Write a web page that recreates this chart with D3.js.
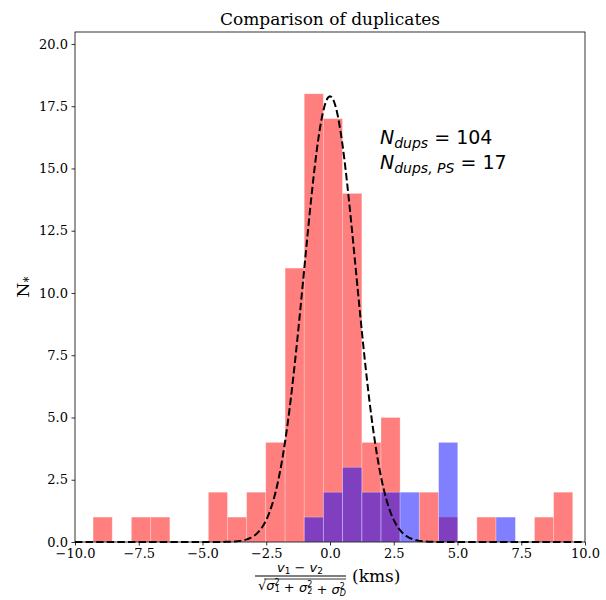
<!DOCTYPE html>
<html>
<head>
<meta charset="utf-8">
<script src="https://cdn.jsdelivr.net/npm/d3@7"></script>
<style>
  body { margin: 0; background: #fff; }
  svg { display: block; }
  .serif { font-family: "DejaVu Serif", serif; }
  .math { font-family: "DejaVu Sans", sans-serif; }
</style>
</head>
<body>
<svg id="svg" width="606" height="600"></svg>
<script>
// histogram bin edges (shared by both series)
var binEdges = [-9.29, -8.54, -7.79, -7.03, -6.28, -5.53, -4.77, -4.02, -3.27, -2.52,
                -1.76, -1.01, -0.26, 0.49, 1.25, 2.00, 2.75, 3.50, 4.26, 5.01,
                5.76, 6.51, 7.27, 8.02, 8.77, 9.52];
// counts per bin, all duplicates
var allCounts = [1, 0, 1, 1, 0, 0, 2, 1, 2, 4, 11, 18, 17, 14, 4, 5, 0, 2, 1, 0, 1, 0, 0, 1, 2];
// counts per bin, PS duplicates
var psCounts  = [0, 0, 0, 0, 0, 0, 0, 0, 0, 0, 0, 1, 2, 3, 2, 2, 2, 0, 4, 0, 0, 1, 0, 0, 0];
// gaussian fit parameters
var fitAmp = 17.9;
var fitMu = 0.0;
var fitSigma = 1.02;
var xTicks = [-10, -7.5, -5, -2.5, 0, 2.5, 5, 7.5, 10];
var yTicks = [0, 2.5, 5, 7.5, 10, 12.5, 15, 17.5, 20];

var svg, margin = { top: 32, right: 21, bottom: 58, left: 75 };
var width, height, innerW, innerH;

document.addEventListener('DOMContentLoaded', function() {
    svg = d3.select('#svg');
    width = +svg.attr('width');
    height = +svg.attr('height');
    innerW = width - margin.left - margin.right;
    innerH = height - margin.top - margin.bottom;
    drawChart();
});

function drawChart() {
    var x = d3.scaleLinear().domain([-10, 10]).range([0, innerW]);
    var y = d3.scaleLinear().domain([0, 20.48]).range([innerH, 0]);

    var g = svg.append('g').attr('transform', 'translate(' + margin.left + ',' + margin.top + ')');

    function bins(counts) {
        return counts.map(function(c, i) { return { x0: binEdges[i], x1: binEdges[i + 1], n: c }; })
                     .filter(function(d) { return d.n > 0; });
    }

    // red histogram
    g.append('g').selectAll('rect')
        .data(bins(allCounts))
        .enter().append('rect')
        .attr('x', function(d) { return x(d.x0); })
        .attr('width', function(d) { return x(d.x1) - x(d.x0); })
        .attr('y', function(d) { return y(d.n); })
        .attr('height', function(d) { return y(0) - y(d.n); })
        .style('fill', 'rgba(255,0,0,0.5)')
        .style('stroke', 'rgba(255,255,255,0.35)')
        .style('stroke-width', 0.8);

    // blue histogram
    g.append('g').selectAll('rect')
        .data(bins(psCounts))
        .enter().append('rect')
        .attr('x', function(d) { return x(d.x0); })
        .attr('width', function(d) { return x(d.x1) - x(d.x0); })
        .attr('y', function(d) { return y(d.n); })
        .attr('height', function(d) { return y(0) - y(d.n); })
        .style('fill', 'rgba(0,0,255,0.5)')
        .style('stroke', 'rgba(255,255,255,0.35)')
        .style('stroke-width', 0.8);

    // gaussian fit
    var xs = d3.range(-10, 10.001, 0.05);
    var line = d3.line()
        .x(function(v) { return x(v); })
        .y(function(v) { return y(fitAmp * Math.exp(-Math.pow(v - fitMu, 2) / (2 * fitSigma * fitSigma))); });
    g.append('path')
        .datum(xs)
        .attr('d', line)
        .style('fill', 'none')
        .style('stroke', 'black')
        .style('stroke-width', 2)
        .style('stroke-dasharray', '7.4,3.2');

    // axes
    var fmt = d3.format('.1f');
    var xAxis = g.append('g')
        .attr('transform', 'translate(0,' + innerH + ')')
        .call(d3.axisBottom(x).tickValues(xTicks).tickFormat(fmt).tickSize(3.5).tickPadding(3.5));
    var yAxis = g.append('g')
        .call(d3.axisLeft(y).tickValues(yTicks).tickFormat(fmt).tickSize(3.5).tickPadding(3.5));
    [xAxis, yAxis].forEach(function(a) {
        a.select('.domain').remove();
        a.selectAll('line').style('stroke', 'black').style('stroke-width', 0.8);
        a.selectAll('text').attr('class', 'serif').style('font-size', '13px').style('fill', 'black');
    });

    g.append('rect')
        .attr('width', innerW)
        .attr('height', innerH)
        .style('fill', 'none')
        .style('stroke', 'black')
        .style('stroke-width', 0.8);

    // title
    svg.append('text')
        .attr('class', 'serif')
        .attr('x', margin.left + innerW / 2)
        .attr('y', 25)
        .attr('text-anchor', 'middle')
        .style('font-size', '17px')
        .text('Comparison of duplicates');

    // y label
    var yl = svg.append('text')
        .attr('class', 'serif')
        .attr('transform', 'translate(29,' + (margin.top + innerH / 2) + ') rotate(-90)')
        .attr('text-anchor', 'middle')
        .style('font-size', '17px');
    yl.append('tspan').text('N');
    yl.append('tspan').attr('dy', 4).style('font-size', '12px').text('*');

    // x label: fraction + (kms)
    var fx = 300, fy = 576;
    var num = svg.append('text')
        .attr('class', 'math')
        .attr('x', fx).attr('y', fy - 4)
        .attr('text-anchor', 'middle')
        .style('font-size', '13px');
    num.append('tspan').style('font-style', 'italic').text('v');
    num.append('tspan').attr('dy', 2).style('font-size', '9px').text('1');
    num.append('tspan').attr('dy', -2).text(' \u2212 ');
    num.append('tspan').style('font-style', 'italic').text('v');
    num.append('tspan').attr('dy', 2).style('font-size', '9px').text('2');

    svg.append('line')
        .attr('x1', 255).attr('x2', 346)
        .attr('y1', fy).attr('y2', fy)
        .style('stroke', 'black').style('stroke-width', 1.2);

    var den = svg.append('text')
        .attr('class', 'math')
        .attr('x', fx + 2).attr('y', fy + 14)
        .attr('text-anchor', 'middle')
        .style('font-size', '13px');
    den.append('tspan').text('\u221A');
    ['1', '2', 'D'].forEach(function(s, i) {
        if (i > 0) den.append('tspan').text(' + ');
        den.append('tspan').style('font-style', 'italic').text('\u03C3');
        den.append('tspan').attr('dy', -5).style('font-size', '8px').text('2');
        den.append('tspan').attr('dx', -5).attr('dy', 7)
            .style('font-size', '8px').style('font-style', s === 'D' ? 'italic' : 'normal').text(s);
        den.append('tspan').attr('dy', -2).text('');
    });
    svg.append('line')
        .attr('x1', 264).attr('x2', 346)
        .attr('y1', fy + 3).attr('y2', fy + 3)
        .style('stroke', 'black').style('stroke-width', 0.8);

    svg.append('text')
        .attr('class', 'serif')
        .attr('x', 352).attr('y', fy + 6)
        .style('font-size', '17px')
        .text('(kms)');

    // annotation
    var ann = [['dups', '104'], ['dups, PS', '17']];
    ann.forEach(function(a, i) {
        var t = svg.append('text')
            .attr('class', 'math')
            .attr('x', 380).attr('y', 144 + i * 25)
            .style('font-size', '19px');
        t.append('tspan').style('font-style', 'italic').text('N');
        t.append('tspan').attr('dy', 4).style('font-size', '14px').style('font-style', 'italic').text(a[0]);
        t.append('tspan').attr('dy', -4).text(' = ' + a[1]);
    });
}
</script>
</body>
</html>
